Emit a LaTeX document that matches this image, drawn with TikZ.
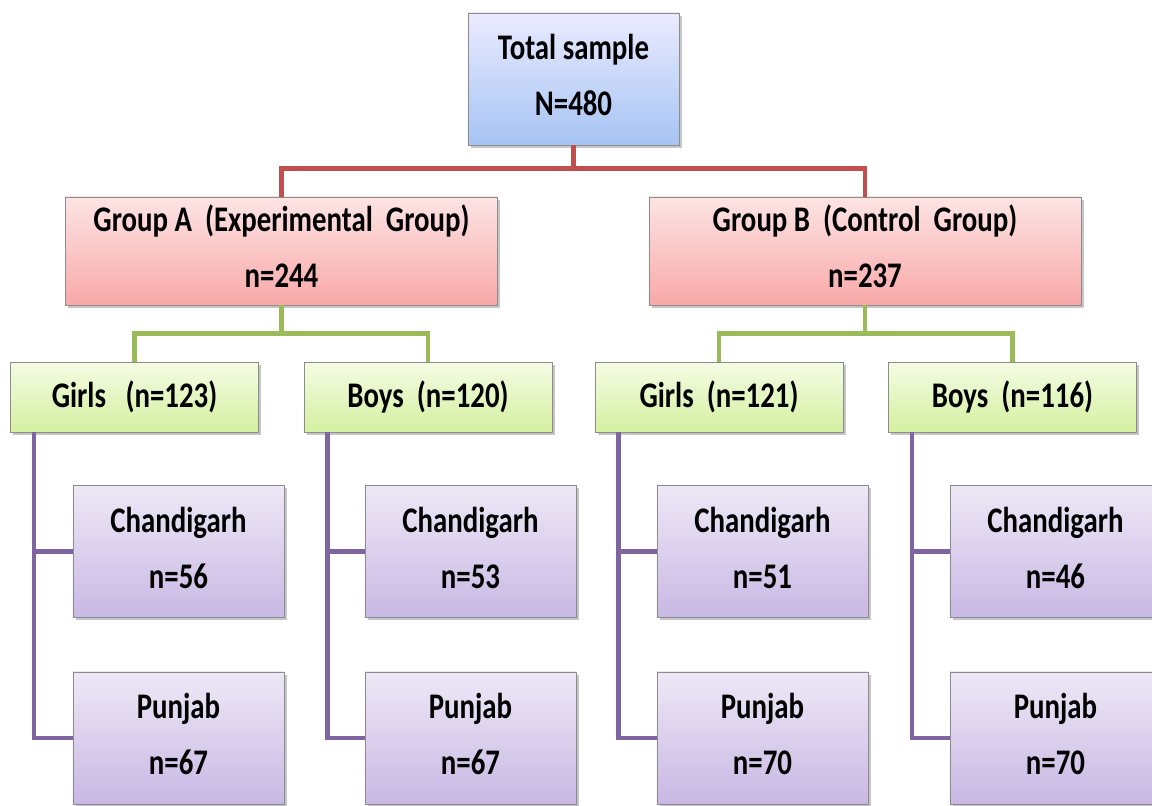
\documentclass[tikz,border=0pt]{standalone}
\usepackage{fontspec}
\setmainfont{Carlito}
\usepackage{graphicx}
\usetikzlibrary{positioning,calc,shadows}

\definecolor{redline}{HTML}{C0504D}
\definecolor{greenline}{HTML}{9BBB59}
\definecolor{purpline}{HTML}{8064A2}
\definecolor{boxedge}{HTML}{8C8C8C}

\newcommand{\tallt}[1]{\scalebox{1}[1.25]{#1}}
\newcommand{\twolines}[2]{\tallt{\begin{tabular}{@{}c@{}}#1\\[7pt]#2\end{tabular}}}

\tikzset{
  box/.style={draw=boxedge,line width=0.6pt,rectangle,inner sep=0pt,
    font=\bfseries\fontsize{20.5}{25}\selectfont,
    drop shadow={shadow xshift=2pt,shadow yshift=-2pt,opacity=0.45}},
  totalbox/.style={box,minimum width=5.275cm,minimum height=3.3cm,
    top color=blue!8!white,bottom color={rgb,255:red,166;green,196;blue,244}},
  grpbox/.style={box,minimum width=10.8cm,minimum height=2.7cm,
    top color={rgb,255:red,253;green,228;blue,228},bottom color={rgb,255:red,249;green,168;blue,168}},
  subbox/.style={box,minimum width=6.2cm,minimum height=1.75cm,
    top color={rgb,255:red,245;green,252;blue,228},bottom color={rgb,255:red,212;green,240;blue,160}},
  citybox/.style={box,minimum width=5.275cm,minimum height=3.3cm,
    top color={rgb,255:red,238;green,232;blue,246},bottom color={rgb,255:red,200;green,184;blue,228}},
  tree/.style={line width=3.4pt,line join=miter}
}

\begin{document}
\begin{tikzpicture}[x=0.025cm,y=-0.025cm]
  \useasboundingbox (0,0) rectangle (1152,805);

  % top level
  \node[totalbox] (total) at (573.5,79) {\twolines{Total sample}{N=480}};

  % groups
  \node[grpbox] (grpA) at (281.5,251) {\twolines{Group~A~~(Experimental~~Group)}{n=244}};
  \node[grpbox] (grpB) at (865,251) {\twolines{Group~B~~(Control~~Group)}{n=237}};
  \draw[tree,redline] (total.south) -- ++(0,23) -| (grpA.north);
  \draw[tree,redline] (total.south) -- ++(0,23) -| (grpB.north);

  % girls and boys
  \node[subbox] (girlsA) at (134.5,397) {\tallt{Girls~~~(n=123)}};
  \node[subbox] (boysA) at (428,397) {\tallt{Boys~~(n=120)}};
  \node[subbox] (girlsB) at (719,397) {\tallt{Girls~~(n=121)}};
  \node[subbox] (boysB) at (1012.5,397) {\tallt{Boys~~(n=116)}};
  \draw[tree,greenline] (grpA.south) -- ++(0,28) -| (girlsA.north);
  \draw[tree,greenline] (grpA.south) -- ++(0,28) -| (boysA.north);
  \draw[tree,greenline] (grpB.south) -- ++(0,28) -| (girlsB.north);
  \draw[tree,greenline] (grpB.south) -- ++(0,28) -| (boysB.north);

  % places
  \foreach \s/\x/\c/\p in {girlsA/178.5/56/67,boysA/470.5/53/67,
                           girlsB/762.5/51/70,boysB/1055.5/46/70}{
    \node[citybox] (ch\s) at (\x,551.5) {\twolines{Chandigarh}{n=\c}};
    \node[citybox] (pj\s) at (\x,738) {\twolines{Punjab}{n=\p}};
    \draw[tree,purpline] ($(\s.south west)+(24,0)$) |- (ch\s.west);
    \draw[tree,purpline] ($(\s.south west)+(24,0)$) |- (pj\s.west);
  }
\end{tikzpicture}
\end{document}
